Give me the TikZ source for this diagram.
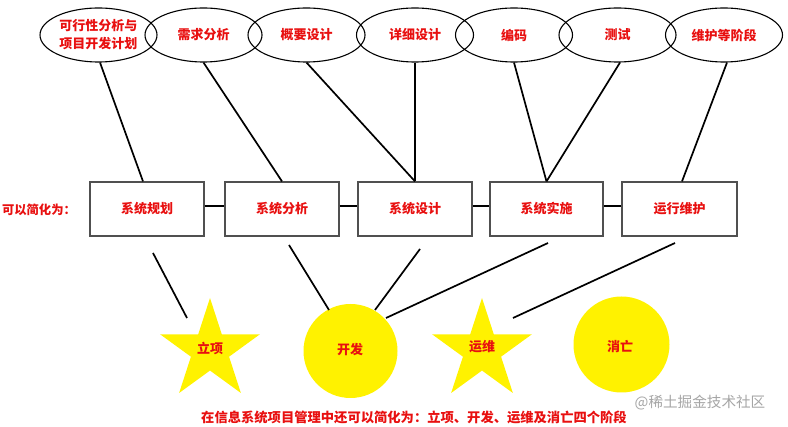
\documentclass[tikz,border=0pt]{standalone}
\usepackage{fontspec}
\newfontfamily\cjk{Noto Sans CJK SC}
\usetikzlibrary{shapes.geometric}
\definecolor{txtred}{RGB}{232,16,16}
\definecolor{sunyellow}{RGB}{255,242,0}
\definecolor{boxgray}{RGB}{80,80,80}
\definecolor{wmgray}{RGB}{165,165,165}
\tikzset{
  phase/.style={ellipse,draw=black,line width=1.1pt,minimum width=117pt,minimum height=54pt,inner sep=0pt,
    font=\cjk\bfseries\fontsize{13}{18}\selectfont,text=txtred,align=center},
  stagebox/.style={rectangle,draw=boxgray,line width=1.2pt,minimum height=54pt,inner sep=0pt,
    font=\cjk\bfseries\fontsize{13}{16}\selectfont,text=txtred},
  link/.style={draw=black,line width=1.7pt},
  starshape/.style={star,star points=5,star point ratio=2.618,minimum size=105pt,inner sep=0pt,fill=sunyellow,draw=none},
  sunshape/.style={circle,fill=sunyellow,draw=none,inner sep=0pt},
  lbl/.style={font=\cjk\bfseries\fontsize{13}{16}\selectfont,text=txtred,inner sep=0pt}
}
\begin{document}
\begin{tikzpicture}[x=1pt,y=-1pt]
\useasboundingbox (0,0) rectangle (788,427);
% ellipses
\node[phase] (e1) at (98.5,35) {可行性分析与\\项目开发计划};
\node[phase] (e2) at (203.5,35) {需求分析};
\node[phase] (e3) at (306.5,35) {概要设计};
\node[phase] (e4) at (415,35) {详细设计};
\node[phase] (e5) at (514,35) {编码};
\node[phase] (e6) at (617.5,35) {测试};
\node[phase] (e7) at (724,35) {维护等阶段};
% boxes
\node[stagebox,minimum width=114pt] (b1) at (147,209) {系统规划};
\node[stagebox,minimum width=114pt] (b2) at (282,209) {系统分析};
\node[stagebox,minimum width=114pt] (b3) at (415,209) {系统设计};
\node[stagebox,minimum width=113pt] (b4) at (546.5,209) {系统实施};
\node[stagebox,minimum width=115pt] (b5) at (679.5,209) {运行维护};
\node[lbl,font=\cjk\bfseries\fontsize{12.3}{14}\selectfont] (simp) at (39,210) {可以简化为：};
% box chain
\draw[link,line width=1.6pt] ([yshift=3pt]b1.east) -- ([yshift=3pt]b2.west);
\draw[link,line width=1.6pt] ([yshift=3pt]b2.east) -- ([yshift=3pt]b3.west);
\draw[link,line width=1.6pt] ([yshift=3pt]b3.east) -- ([yshift=3pt]b4.west);
\draw[link,line width=1.6pt] ([yshift=3pt]b4.east) -- ([yshift=3pt]b5.west);
% ellipse to box
\draw[link] ([xshift=1.5pt]e1.south) -- ([xshift=-4pt]b1.north);
\draw[link] (e2.south) -- (b2.north);
\draw[link] (e3.south) -- (b3.north);
\draw[link] (e4.south) -- (b3.north);
\draw[link] (e5.south) -- (b4.north);
\draw[link] ([xshift=2.5pt]e6.south) -- (b4.north);
\draw[link] ([xshift=3pt]e7.south) -- ([xshift=2.5pt]b5.north);
% bottom symbols
\node[starshape] (s1) at (210,350.5) {};
\node[sunshape,minimum size=94pt] (c1) at (350.5,351) {};
\node[starshape] (s2) at (482,350.5) {};
\node[sunshape,minimum size=96pt] (c2) at (621.5,344.5) {};
\node[lbl] (t1) at (210,348) {立项};
\node[lbl] (t2) at (350,350) {开发};
\node[lbl] (t3) at (482,347) {运维};
\node[lbl] (t4) at (620,347) {消亡};
% free lines
\coordinate (l1a) at (153,253); \coordinate (l1b) at (187,318);
\coordinate (l2a) at (289,245); \coordinate (l2b) at (329,310);
\coordinate (l3a) at (420,249); \coordinate (l3b) at (375,310);
\coordinate (l4a) at (548,243); \coordinate (l4b) at (386,318);
\coordinate (l5a) at (675,243); \coordinate (l5b) at (513,318);
\draw[link] (l1a) -- (l1b);
\draw[link] (l2a) -- (l2b);
\draw[link] (l3a) -- (l3b);
\draw[link] (l4a) -- (l4b);
\draw[link] (l5a) -- (l5b);
% caption
\node[lbl,font=\cjk\bfseries\fontsize{13.3}{16}\selectfont] (cap) at (414,417) {在信息系统项目管理中还可以简化为：立项、开发、运维及消亡四个阶段};
\node[font=\cjk\fontsize{14.6}{17}\selectfont,text=wmgray,inner sep=0pt] (wm) at (700,403) {@稀土掘金技术社区};
\end{tikzpicture}
\end{document}
